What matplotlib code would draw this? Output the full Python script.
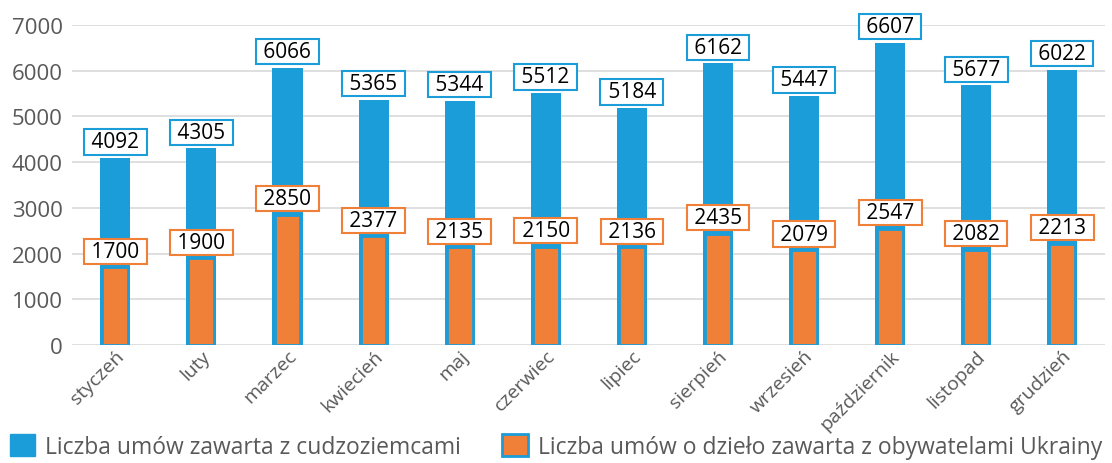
import matplotlib
matplotlib.use("Agg")
import matplotlib.pyplot as plt
from matplotlib.patches import Patch
from matplotlib import rcParams

rcParams['font.family'] = ['Open Sans', 'DejaVu Sans']

months = ["styczeń", "luty", "marzec", "kwiecień", "maj", "czerwiec", "lipiec",
          "sierpień", "wrzesień", "październik", "listopad", "grudzień"]
foreigners = [4092, 4305, 6066, 5365, 5344, 5512, 5184, 6162, 5447, 6607, 5677, 6022]
ukraine = [1700, 1900, 2850, 2377, 2135, 2150, 2136, 2435, 2079, 2547, 2082, 2213]
series_names = ["Liczba umów zawarta z cudzoziemcami",
                "Liczba umów o dzieło zawarta z obywatelami Ukrainy"]

BLUE = "#1b9dd9"
ORANGE = "#f07f37"
GREY = "#595959"

fig = plt.figure(figsize=(11.12, 4.64), dpi=100)
ax = fig.add_axes([0.065, 0.254, 0.929, 0.69])

x = list(range(len(months)))
ax.bar(x, foreigners, width=0.35, color=BLUE, zorder=2)
ax.bar(x, ukraine, width=0.30, color=ORANGE, edgecolor=BLUE, linewidth=2, zorder=3)

# data labels in outlined boxes
for vals, col in ((foreigners, BLUE), (ukraine, ORANGE)):
    for xi, v in zip(x, vals):
        ax.annotate(f" {v} ", (xi, v), xytext=(0, 4), textcoords="offset points",
                    ha="center", va="bottom", fontsize=15, color="black", zorder=5,
                    bbox=dict(boxstyle="square,pad=0.1", fc="white", ec=col, lw=1.5))

ax.set_xlim(-0.5, len(months) - 0.5)
ax.set_ylim(0, 7000)
ax.set_yticks(range(0, 7001, 1000))
ax.yaxis.grid(True, color="#d9d9d9", linewidth=1.2, zorder=0)
ax.set_axisbelow(True)
for s in ax.spines.values():
    s.set_visible(False)
ax.tick_params(axis="y", length=0, pad=7, labelsize=16, labelcolor=GREY)
ax.tick_params(axis="x", length=0, pad=1, labelsize=14, labelcolor=GREY)
ax.set_xticks(x)
ax.set_xticklabels(months, rotation=45, ha="right", va="top", rotation_mode="anchor")

handles = [Patch(facecolor=BLUE, edgecolor=BLUE),
           Patch(facecolor=ORANGE, edgecolor=BLUE, linewidth=2)]
leg = fig.legend(handles, series_names, loc="lower center", bbox_to_anchor=(0.5, -0.035),
                 ncol=2, frameon=False, fontsize=16.5, handlelength=1.1, handleheight=1.1,
                 handletextpad=0.45, columnspacing=1.8, labelcolor=GREY)

fig.savefig("out.png", dpi=100)
